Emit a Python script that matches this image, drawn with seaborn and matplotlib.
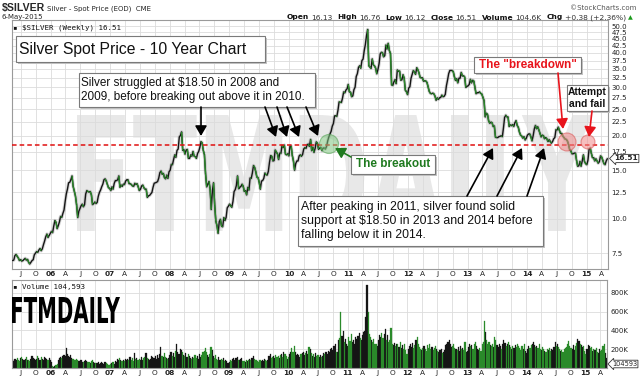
import numpy as np
import pandas as pd
import matplotlib
matplotlib.use("Agg")
import matplotlib.pyplot as plt
import matplotlib.dates as mdates
import matplotlib.ticker as mticker
import seaborn as sns
from matplotlib.collections import LineCollection
from matplotlib.patches import Rectangle, FancyArrowPatch, Ellipse, PathPatch
from matplotlib.textpath import TextPath
from matplotlib.font_manager import FontProperties
from matplotlib.transforms import Affine2D

# ---------------- data (weekly closes, USD/oz) ----------------
close_2005 = [7.05, 7.08, 7.35,
              7.42, 7.30, 7.20, 7.05,
              7.10, 7.02, 7.05, 7.12, 7.18,
              7.08, 7.12, 6.95, 6.85,
              6.95, 7.05, 7.10, 7.40, 7.50,
              7.60, 7.55, 7.70, 7.80,
              7.65, 7.78, 8.05, 8.30,
              8.60, 8.80, 8.55, 8.70, 8.85]
close_2006 = [9.00, 8.90, 9.40, 9.85,
              9.70, 9.20, 9.45, 9.75,
              10.20, 10.10, 10.45, 10.75, 11.55,
              12.30, 12.80, 13.50, 13.55,
              13.85, 14.30, 13.10, 12.60,
              12.10, 11.25, 10.10, 10.65, 10.90,
              11.15, 11.30, 11.05, 11.25,
              12.30, 12.65, 12.55, 12.50,
              12.55, 12.20, 11.25, 11.35, 11.50,
              11.35, 11.45, 12.05, 12.45,
              12.70, 13.05, 13.35, 13.85,
              13.95, 13.70, 13.30, 12.95, 12.90]
close_2007 = [12.65, 13.05, 12.80, 13.45,
              13.75, 13.75, 13.85, 14.30,
              13.00, 13.25, 13.10, 13.35, 13.30,
              13.70, 13.85, 13.85, 13.40,
              13.40, 13.30, 13.15, 13.10,
              13.45, 13.30, 13.40, 13.05, 12.65,
              12.80, 13.15, 13.25, 12.95,
              12.80, 12.80, 11.95, 12.10, 12.15,
              12.30, 12.45, 13.00, 13.45,
              13.50, 13.55, 13.65, 14.05,
              14.70, 14.90, 14.50, 14.60, 14.10,
              13.95, 14.40, 14.00, 14.80]
close_2008 = [15.00, 15.75, 15.70, 16.40,
              17.05, 16.70, 17.70, 17.90, 19.80,
              20.05, 20.65, 17.70, 17.80,
              17.15, 17.75, 17.85, 16.55,
              16.55, 17.05, 16.85, 17.55, 16.85,
              16.80, 16.55, 17.25, 17.55,
              18.15, 19.05, 18.85, 17.70,
              17.10, 14.55, 13.05, 13.35, 13.65,
              12.80, 10.80, 12.65, 13.50,
              11.20, 9.80, 9.45, 8.85, 9.75,
              9.95, 9.40, 9.35, 10.10,
              9.85, 10.10, 10.95, 11.10]
close_2009 = [11.30, 11.15, 11.00, 11.55, 12.55,
              12.75, 13.20, 14.30, 12.85,
              13.00, 13.10, 13.35, 13.10,
              12.55, 12.65, 12.20, 13.00,
              12.70, 14.05, 14.00, 14.65, 15.60,
              15.35, 14.80, 14.15, 14.10,
              13.55, 12.80, 13.70, 13.75, 14.00,
              14.65, 14.45, 14.40, 14.85,
              16.00, 16.95, 16.85, 16.20,
              16.25, 17.75, 17.45, 17.20, 16.40,
              17.30, 17.25, 18.45, 18.10,
              18.50, 17.15, 17.05, 17.20]
close_2010 = [16.90, 18.35, 18.35, 16.95, 16.20,
              15.00, 15.85, 16.20, 16.20,
              16.90, 17.05, 16.85, 17.10,
              17.90, 18.10, 18.00, 18.55, 18.65,
              18.30, 19.40, 17.65, 18.20,
              17.40, 18.00, 19.00, 18.80,
              17.85, 18.05, 18.15, 17.65, 18.05,
              18.05, 17.90, 18.30, 19.15,
              19.80, 20.30, 20.75, 21.65,
              22.15, 23.60, 23.65, 23.50, 24.75,
              26.55, 26.45, 26.40, 27.40,
              28.85, 28.60, 29.30, 29.60, 30.70]
close_2011 = [28.85, 28.80, 27.70, 27.90,
              29.40, 30.00, 32.80, 33.60,
              35.40, 35.90, 35.15, 37.50,
              37.95, 40.70, 42.85, 46.15, 48.60,
              35.90, 35.50, 35.10, 38.00,
              36.15, 35.85, 35.20, 33.55,
              34.75, 36.50, 39.60, 40.15, 40.05,
              38.65, 39.05, 42.70, 41.25,
              43.30, 40.75, 39.80, 30.60, 30.45,
              31.35, 31.95, 30.90, 34.65,
              34.20, 34.35, 31.80, 31.90,
              33.30, 32.35, 29.25, 28.90, 28.20]
close_2012 = [29.80, 30.10, 32.30, 33.40,
              34.50, 34.05, 33.40, 35.30,
              34.70, 33.80, 32.55, 32.45, 32.45,
              31.55, 31.65, 31.60, 31.20,
              30.05, 28.95, 28.50, 28.40,
              28.55, 28.40, 27.85, 26.90, 27.45,
              27.10, 27.45, 27.55, 28.10,
              27.70, 27.80, 28.25, 30.35, 31.85,
              33.60, 34.50, 34.50, 34.50,
              34.15, 32.75, 31.75, 32.20,
              31.10, 32.35, 32.35, 33.95, 32.95,
              33.00, 32.70, 29.95, 30.20]
close_2013 = [30.35, 30.70, 32.05, 31.10,
              31.80, 31.60, 29.90, 28.40,
              28.65, 28.65, 28.85, 28.50, 28.35,
              27.55, 26.80, 23.40, 24.15,
              23.90, 22.65, 22.20, 22.40, 22.30,
              21.60, 21.70, 19.75, 19.70,
              19.70, 19.85, 19.90, 20.00,
              19.85, 21.35, 23.30, 23.75, 23.40,
              23.40, 21.60, 21.90, 21.75,
              21.95, 21.60, 22.30, 22.70,
              21.80, 21.45, 20.60, 20.10, 19.95,
              19.60, 19.85, 19.30, 19.60]
close_2014 = [20.10, 20.30, 20.30, 19.85, 19.15,
              20.00, 21.15, 21.80, 21.20,
              21.55, 21.00, 20.40, 19.80,
              20.10, 20.00, 19.50, 19.70,
              19.50, 19.05, 19.35, 19.05, 18.80,
              19.05, 19.50, 19.70, 21.05,
              21.00, 21.50, 20.90, 20.40,
              20.40, 19.95, 19.70, 19.45, 19.40,
              19.15, 18.60, 17.80, 17.65,
              17.20, 17.20, 17.30, 17.30, 16.30,
              15.50, 15.55, 16.15, 15.50,
              16.20, 17.05, 16.10, 15.85]
close_2015 = [15.70, 16.30, 17.90, 18.05, 17.25,
              16.65, 16.65, 16.20, 16.50,
              16.20, 15.90, 16.10, 16.90,
              16.75, 16.30, 15.85, 15.70,
              16.20, 16.51]

# weekly volume, thousands of contracts
vol_2005 = [85, 70, 95, 80, 105, 90, 75, 110, 120, 95,
            85, 100, 115, 90, 80, 70, 95, 125, 110, 100,
            85, 95, 130, 105, 90, 115, 100, 85, 120, 105,
            95, 80, 110, 90]
vol_2006 = [60, 20, 15, 25, 30, 45, 90, 110, 120, 105, 130, 140, 125,
            215, 150, 130, 120, 140, 110, 95, 85, 90, 100, 80, 75, 70,
            85, 65, 60, 75, 80, 70, 65, 60, 55, 70, 80, 60, 55,
            50, 55, 60, 45, 55, 65, 50, 45, 60, 50, 40, 35, 30]
vol_2007 = [40, 55, 60, 45, 70, 65, 95, 80, 110, 90, 75, 85, 70,
            95, 80, 100, 85, 120, 90, 105, 75, 155, 95, 110, 85, 100,
            90, 115, 80, 105, 120, 160, 110, 95, 85, 100, 130, 115, 105,
            125, 95, 140, 110, 150, 220, 130, 115, 160, 120, 105, 95, 110]
vol_2008 = [140, 165, 130, 155, 120, 180, 250, 170, 150, 200, 190, 165, 140,
            130, 160, 115, 145, 130, 110, 95, 120, 105, 135, 110, 125, 100,
            150, 120, 140, 165, 180, 210, 175, 140, 120, 150, 220, 195, 130,
            110, 140, 100, 90, 115, 85, 95, 80, 105, 75, 90, 70, 55]
vol_2009 = [60, 85, 75, 95, 105, 90, 110, 120, 80, 85, 95, 105, 75,
            70, 65, 80, 75, 90, 100, 80, 110, 125, 95, 85, 90, 70,
            65, 80, 75, 85, 70, 95, 80, 75, 90, 125, 145, 110, 120,
            130, 105, 140, 115, 125, 110, 135, 150, 120, 170, 145, 130, 95]
vol_2010 = [120, 150, 175, 210, 165, 230, 175, 140, 150, 135, 120, 145, 155,
            170, 140, 160, 185, 150, 225, 200, 160, 130, 145, 120, 155, 130,
            135, 120, 140, 115, 125, 160, 145, 175, 150, 185, 170, 200, 215,
            190, 230, 250, 175, 165, 300, 320, 600, 340, 390, 280, 310, 250, 230]
vol_2011 = [330, 290, 360, 280, 300, 260, 330, 310, 340, 370, 320, 300,
            350, 380, 390, 540, 880, 600, 360, 330, 300, 280, 310, 260, 250,
            230, 300, 350, 330, 370, 320, 360, 420, 300, 350, 280, 300, 430, 260,
            240, 270, 230, 250, 260, 220, 280, 210, 240, 200, 260, 190, 150]
vol_2012 = [200, 230, 250, 220, 270, 210, 240, 300, 330, 250, 220, 200, 190,
            210, 230, 200, 180, 240, 210, 260, 200, 220, 190, 210, 230, 200,
            180, 170, 190, 200, 160, 175, 190, 240, 260, 280, 300, 250, 220,
            230, 260, 210, 200, 190, 220, 180, 230, 200, 210, 190, 280, 170]
vol_2013 = [180, 220, 250, 230, 240, 200, 260, 280, 230, 200, 190, 210, 180,
            250, 280, 495, 380, 300, 260, 280, 240, 230, 250, 220, 330, 300,
            240, 220, 250, 230, 200, 260, 300, 270, 230, 250, 280, 240, 220,
            200, 230, 210, 240, 220, 250, 230, 210, 190, 230, 200, 250, 180]
vol_2014 = [160, 200, 230, 210, 240, 250, 280, 240, 220, 230, 210, 250, 200,
            190, 220, 200, 180, 170, 200, 190, 210, 180, 200, 190, 220, 280,
            230, 260, 220, 200, 180, 190, 170, 200, 210, 220, 250, 290, 230,
            210, 200, 240, 190, 230, 270, 310, 290, 250, 240, 220, 230, 180]
vol_2015 = [150, 200, 240, 230, 210, 220, 180, 200, 190, 210, 170, 160, 200,
            180, 190, 230, 250, 160, 105]

price_ticks = [7.5, 10.0, 12.5, 15.0, 17.5, 20.0, 22.5, 25.0, 27.5, 30.0,
               32.5, 35.0, 37.5, 40.0, 42.5, 45.0, 47.5, 50.0]
vol_ticks = [200000, 400000, 600000, 800000]
vol_tick_labels = ["200K", "400K", "600K", "800K"]
support_level = 18.50

close = np.array(close_2005 + close_2006 + close_2007 + close_2008 + close_2009 +
                 close_2010 + close_2011 + close_2012 + close_2013 + close_2014 +
                 close_2015, dtype=float)
volume = np.array(vol_2005 + vol_2006 + vol_2007 + vol_2008 + vol_2009 + vol_2010 +
                  vol_2011 + vol_2012 + vol_2013 + vol_2014 + vol_2015, dtype=float) * 1000
n = min(len(close), len(volume))
close = close[:n]
volume = volume[:n]
dates = pd.date_range("2005-05-13", periods=n, freq="W-FRI")
xnum = mdates.date2num(dates)
up = np.r_[True, np.diff(close) >= 0]

# ---------------- figure ----------------
sns.set_theme(style="white")
plt.rcParams["font.family"] = ["Liberation Sans", "DejaVu Sans"]

W, H = 640, 380
fig = plt.figure(figsize=(6.4, 3.8), dpi=100)
fig.patch.set_facecolor("white")


def P(px, py):
    return (px / W, 1 - py / H)


ax = fig.add_axes([12 / W, 1 - 269 / H, (608 - 12) / W, (269 - 20) / H])
axv = fig.add_axes([12 / W, 1 - 368 / H, (607 - 12) / W, (368 - 280) / H])

BLACK = "#151515"
GREEN = "#2a8a2a"


def word_patch(s, box, color, axes, z):
    x0, y0, x1, y1 = box
    fp = FontProperties(family="DejaVu Sans", weight="bold")
    tp = TextPath((0, 0), s, size=100, prop=fp)
    ext = tp.get_extents()
    sx = (x1 - x0) / ext.width / W
    sy = (y1 - y0) / ext.height / H
    tr = Affine2D().translate(-ext.x0, -ext.y0).scale(sx, sy).translate(x0 / W, 1 - y1 / H)
    patch = PathPatch(tr.transform_path(tp), facecolor=color, edgecolor="none",
                      transform=fig.transFigure, zorder=z)
    axes.add_artist(patch)


ax.set_yscale("log")
word_patch("FTMDAILY", (77, 115, 592, 231), "#e8e8e8", ax, 0.2)

# price line
sns.lineplot(x=xnum, y=close, color="#a0a0a0", lw=2.4, alpha=0.45, sort=False,
             estimator=None, ax=ax, zorder=2)
sns.lineplot(x=xnum, y=close, color=BLACK, lw=1.0, sort=False, estimator=None,
             ax=ax, zorder=3)
pts = np.column_stack([xnum, close])
segs = [pts[i - 1:i + 1] for i in range(1, n) if not up[i]]
ax.add_collection(LineCollection(segs, colors=GREEN, linewidths=1.0, zorder=3.5))
ax.axhline(support_level, color="#e01010", lw=1.1, ls=(0, (3, 2)), zorder=4)

ax.set_ylim(6.57, 52.6)
ax.set_xlim(mdates.date2num(pd.Timestamp("2005-05-09")),
            mdates.date2num(pd.Timestamp("2015-05-12")))

# volume
vdf = pd.DataFrame({"x": xnum, "vol": volume,
                    "dir": np.where(up, "up", "down")})
sns.barplot(data=vdf, x="x", y="vol", hue="dir", palette={"up": BLACK, "down": GREEN},
            native_scale=True, dodge=False, width=1.0, errorbar=None, saturation=1,
            legend=False, ax=axv)
week = 7.0
for p in axv.patches:
    cx = p.get_x() + p.get_width() / 2
    p.set_x(cx - week * 0.5)
    p.set_width(week)
    p.set_edgecolor(p.get_facecolor())
    p.set_linewidth(0.2)
axv.set_xlim(ax.get_xlim())
axv.set_ylim(0, 936000)
word_patch("FTMDAILY", (12, 297, 120, 323), "#000000", axv, 5)

# ticks / grid
qdates = pd.date_range("2005-07-01", "2015-04-01", freq="QS")
qnum = mdates.date2num(qdates)
mlabel = {4: "A", 7: "J", 10: "O"}
qlabels = [f"{d.year % 100:02d}" if d.month == 1 else mlabel[d.month] for d in qdates]

for a in (ax, axv):
    a.set_xlabel("")
    a.set_ylabel("")
    a.set_xticks(qnum)
    a.set_xticklabels(qlabels)
    for lab, d in zip(a.get_xticklabels(), qdates):
        lab.set_fontfamily("DejaVu Sans")
        if d.month == 1:
            lab.set_fontweight("bold")
    a.tick_params(axis="x", length=0, pad=1.6, labelsize=5.3, colors="#222222")
    a.yaxis.tick_right()
    a.tick_params(axis="y", length=0, pad=2.4, labelsize=5.0, colors="#222222")
    a.grid(True, color="#dcdcdc", lw=0.6)
    a.set_axisbelow(True)
    for s in a.spines.values():
        s.set_color("#9a9a9a")
        s.set_linewidth(0.8)

ax.set_yticks(price_ticks)
ax.yaxis.set_major_formatter(mticker.FormatStrFormatter("%.1f"))
ax.yaxis.set_minor_locator(mticker.NullLocator())
axv.set_yticks(vol_ticks)
axv.set_yticklabels(vol_tick_labels)
for a in (ax, axv):
    for lab in a.get_yticklabels():
        lab.set_fontfamily("DejaVu Sans")

# ---------------- header ----------------
fig.text(*P(2, 8), "$SILVER", fontsize=7.6, weight="bold", va="center", ha="left")
fig.text(*P(47, 8.5), "Silver - Spot Price (EOD)  CME", fontsize=5.0, va="center",
         ha="left", family="DejaVu Sans")
fig.text(*P(636, 7.5), "©StockCharts.com", fontsize=5.0, va="center", ha="right",
         color="#555555", family="DejaVu Sans")
fig.text(*P(2, 17.5), "6-May-2015", fontsize=5.0, va="center", ha="left",
         family="DejaVu Sans")

pieces = [("Open", True), ("16.13", False), ("High", True), ("16.76", False),
          ("Low", True), ("16.12", False), ("Close", True), ("16.51", False),
          ("Volume", True), ("104.6K", False), ("Chg", True), ("+0.38 (+2.36%)", False)]
renderer = fig.canvas.get_renderer()
objs, widths = [], []
for txt, bold in pieces:
    t = fig.text(0, 1 - 17.5 / H, txt, fontsize=5.4, va="center", ha="left",
                 weight="bold" if bold else "normal", family="DejaVu Sans",
                 color="#111111" if bold else "#333333")
    objs.append(t)
    widths.append(t.get_window_extent(renderer).width)
gaps = [2 if b else 5 for _, b in pieces]
total = sum(widths) + sum(gaps[:-1])
xpos = 626 - total
for t, w, g in zip(objs, widths, gaps):
    t.set_x(xpos / W)
    xpos += w + g
fig.text(*P(628, 17.5), "▲", fontsize=4.5, color="#1a9a1a", va="center", ha="left",
         family="DejaVu Sans")

fig.text(*P(13, 27.5), "▪ $SILVER (Weekly) 16.51", fontsize=5.4, va="center", ha="left",
         family="DejaVu Sans Mono", color="#111111")
fig.text(*P(13, 286.5), "▪ Volume 104,593", fontsize=5.4, va="center", ha="left",
         family="DejaVu Sans Mono", color="#111111")

fig.text(*P(614, 158.5), "16.51", fontsize=5.4, weight="bold", va="center", ha="left",
         family="DejaVu Sans", zorder=9,
         bbox=dict(boxstyle="larrow,pad=0.15", fc="white", ec="#333333", lw=0.6))
fig.text(*P(612, 364), "104593", fontsize=4.8, va="center", ha="left",
         family="DejaVu Sans", zorder=9,
         bbox=dict(boxstyle="larrow,pad=0.12", fc="white", ec="#333333", lw=0.6))

# ---------------- annotations ----------------
def box(x0, y0, x1, y1):
    fig.add_artist(Rectangle(P(x0 + 2, y1 + 2), (x1 - x0) / W, (y1 - y0) / H,
                             fc="#c4c4c4", ec="none", transform=fig.transFigure, zorder=5))
    fig.add_artist(Rectangle(P(x0, y1), (x1 - x0) / W, (y1 - y0) / H, fc="white",
                             ec="#7a7a7a", lw=0.8, transform=fig.transFigure, zorder=6))


def arrow(p0, p1, color, lw=1.2):
    fig.add_artist(FancyArrowPatch(P(*p0), P(*p1), transform=fig.transFigure,
                                   arrowstyle="-|>,head_length=0.6,head_width=0.35",
                                   mutation_scale=10, color=color, lw=lw,
                                   shrinkA=0, shrinkB=0, zorder=8))


def circle(cx, cy, r, fc, ec):
    fig.add_artist(Ellipse(P(cx, cy), 2 * r / W, 2 * r / H, transform=fig.transFigure,
                           fc=fc, ec=ec, lw=0.8, alpha=0.55, zorder=4.5))


circle(329, 144, 9.5, "#7fc47f", "#4f9f4f")
circle(567, 142, 9, "#f08a8a", "#d85050")
circle(588, 142, 7, "#f08a8a", "#d85050")

box(16, 36, 265, 62)
fig.text(*P(19, 49.5), "Silver Spot Price - 10 Year Chart", fontsize=11.3, va="center",
         ha="left", zorder=7, color="#111111")

box(79, 73, 315, 107)
fig.text(*P(81, 90), "Silver struggled at $18.50 in 2008 and\n2009, before breaking out above it in 2010.",
         fontsize=8.5, va="center", ha="left", linespacing=1.32, zorder=7, color="#111111")
arrow((201, 107), (201, 136), "black")
for (sx, sy), (tx, ty) in [((265, 107), (276, 137)), ((277, 107), (287, 137)),
                           ((287, 107), (299, 137)), ((306, 107), (318, 136))]:
    arrow((sx, sy), (tx, ty), "black")

box(351, 155, 435, 174)
fig.text(*P(393, 164.5), "The breakout", fontsize=8.5, weight="bold", color="#1f7a1f",
         va="center", ha="center", zorder=7)
arrow((351, 157), (335, 148), "#1f7a1f")

box(298, 196, 543, 246)
fig.text(*P(301, 221), "After peaking in 2011, silver found solid\nsupport at $18.50 in 2013 and 2014 before\nfalling below it in 2014.",
         fontsize=8.8, va="center", ha="left", linespacing=1.2, zorder=7, color="#111111")
for (sx, sy), (tx, ty) in [((467, 196), (493, 148)), ((497, 196), (522, 148)),
                           ((527, 196), (544, 148))]:
    arrow((sx, sy), (tx, ty), "black")

box(474, 57, 581, 73)
fig.text(*P(527.5, 65), 'The "breakdown"', fontsize=8.5, weight="bold", color="#e8141c",
         va="center", ha="center", zorder=7)
arrow((558, 73), (563, 129), "#e8141c")

box(567, 85, 608, 111)
fig.text(*P(587.5, 98), "Attempt\nand fail", fontsize=7.4, weight="bold", color="#111111",
         va="center", ha="center", linespacing=1.2, zorder=7)
arrow((592, 111), (589, 137), "#e8141c")

fig.savefig("out.png", dpi=100, facecolor="white")
